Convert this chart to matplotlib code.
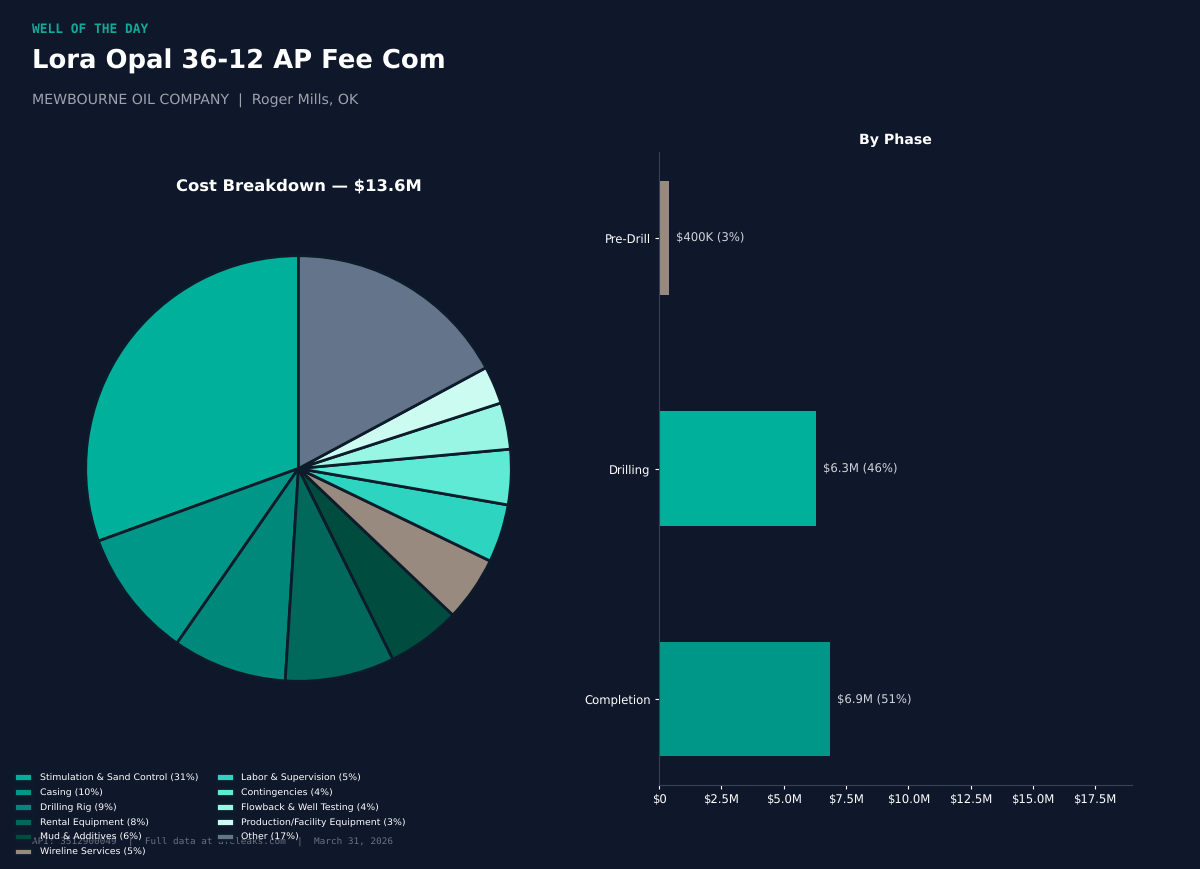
import matplotlib
matplotlib.use("Agg")
import matplotlib.pyplot as plt
from matplotlib.ticker import FuncFormatter

plt.rcParams['text.hinting'] = 'no_hinting'

BG = '#0F172A'
EDGE = '#0D1B2A'

cost_labels = ['Stimulation & Sand Control (31%)', 'Casing (10%)', 'Drilling Rig (9%)',
               'Rental Equipment (8%)', 'Mud & Additives (6%)', 'Wireline Services (5%)',
               'Labor & Supervision (5%)', 'Contingencies (4%)', 'Flowback & Well Testing (4%)',
               'Production/Facility Equipment (3%)', 'Other (17%)']
cost_values = [4.15, 1.33, 1.18, 1.13, 0.76, 0.67, 0.60, 0.57, 0.48, 0.39, 2.33]
cost_colors = ['#00B09B', '#009688', '#00897B', '#00695C', '#004D40', '#998A80',
               '#2DD4BF', '#5EEAD4', '#99F6E4', '#CCFBF1', '#64748B']

phases = ['Pre-Drill', 'Drilling', 'Completion']
phase_values = [0.4, 6.3, 6.85]
phase_labels = ['$400K (3%)', '$6.3M (46%)', '$6.9M (51%)']
phase_colors = ['#998A80', '#00B09B', '#009688']
x_ticks = [0, 2.5, 5, 7.5, 10, 12.5, 15, 17.5]

W, H = 1200, 869
fig = plt.figure(figsize=(W / 100, H / 100), dpi=100, facecolor=BG)

fig.text(32 / W, 1 - 29.5 / H, 'WELL OF THE DAY', color='#14A898', fontsize=9.25, fontweight='bold',
         family='DejaVu Sans Mono', va='center', ha='left')
fig.text(32 / W, 1 - 61.5 / H, 'Lora Opal 36-12 AP Fee Com', color='white', fontsize=18.6,
         fontweight='bold', va='center', ha='left')
fig.text(32 / W, 1 - 100.5 / H, 'MEWBOURNE OIL COMPANY  |  Roger Mills, OK', color='#9CA3AF',
         fontsize=10.2, va='center', ha='left')
fig.text(32 / W, 1 - 842 / H, 'API: 3512900049  |  Full data at afeleaks.com  |  March 31, 2026',
         color='#6B7280', fontsize=6.75, family='DejaVu Sans Mono', va='center', ha='left')

# Pie
ax1 = fig.add_axes([32.5 / W, 1 - 734.5 / H, 532 / W, 532 / H])
ax1.set_facecolor(BG)
wedges, _ = ax1.pie(cost_values, colors=cost_colors, startangle=90, counterclock=True,
                    wedgeprops=dict(edgecolor=EDGE, linewidth=2))
ax1.set_title('Cost Breakdown — $13.6M', color='white', fontsize=11.8, fontweight='bold', pad=8.5)
leg = fig.legend(wedges, cost_labels, ncol=2, loc='upper left',
                 bbox_to_anchor=(6 / W, 1 - 765 / H), frameon=False, fontsize=6.75,
                 labelcolor='white', labelspacing=0.62, handleheight=0.9,
                 handlelength=1.9, handletextpad=0.8, columnspacing=1.9)

# Bars
ax2 = fig.add_axes([659 / W, 1 - 785 / H, (1132 - 659) / W, (785 - 152) / H])
ax2.set_facecolor(BG)
bars = ax2.barh(phases, phase_values, color=phase_colors, height=0.495)
ax2.invert_yaxis()
ax2.set_xlim(0, 18.98)
ax2.set_xticks(x_ticks)
ax2.xaxis.set_major_formatter(FuncFormatter(
    lambda v, _: '$0' if v == 0 else f'${v:.1f}M'))
ax2.tick_params(colors='white', labelsize=8.35, length=3, pad=3)
for s in ('top', 'right'):
    ax2.spines[s].set_visible(False)
for s in ('left', 'bottom'):
    ax2.spines[s].set_color('#374151')
for bar, label in zip(bars, phase_labels):
    ax2.annotate(label, (bar.get_width(), bar.get_y() + bar.get_height() / 2),
                 xytext=(5.2, 0.4), textcoords='offset points', va='center',
                 color='#D1D5DB', fontsize=8.4)
ax2.set_title('By Phase', color='white', fontsize=10.15, fontweight='bold', pad=5.8)

fig.savefig('out.png', dpi=100, facecolor=BG)
